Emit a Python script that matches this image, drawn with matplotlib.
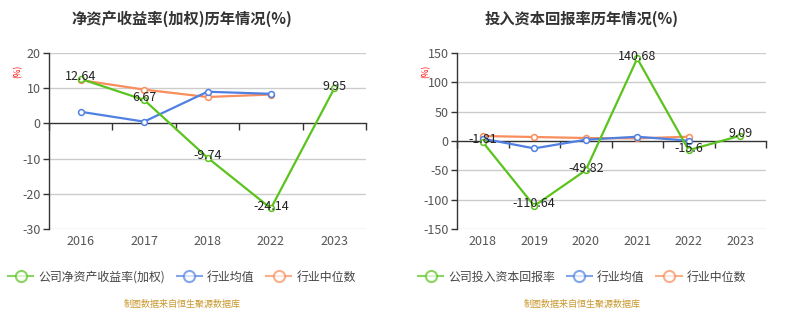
import matplotlib.pyplot as plt
from matplotlib.lines import Line2D

plt.rcParams['font.family'] = ['Noto Sans CJK SC', 'DejaVu Sans']
plt.rcParams['axes.unicode_minus'] = False

# ===== data =====
roe_years = ['2016', '2017', '2018', '2022', '2023']
roe_company = [12.64, 6.67, -9.74, -24.14, 9.95]
roe_mean = [3.3, 0.5, 9.0, 8.4]
roe_median = [12.3, 9.6, 7.5, 8.2]

roic_years = ['2018', '2019', '2020', '2021', '2022', '2023']
roic_company = [-1.81, -110.64, -49.82, 140.68, -15.6, 9.09]
roic_mean = [4.0, -12.6, 2.2, 7.3, 0.5]
roic_median = [8.5, 6.8, 5.1, 4.5, 7.3]

GREEN = '#5BC31E'
BLUE = '#4F80E2'
ORANGE = '#F98D5C'
GRID = '#CCCCCC'
TXT = '#333333'

fig = plt.figure(figsize=(7.96, 3.33), dpi=100)


def draw_panel(rect, title, title_x, years, comp, mean, median, ylim, step):
    ax = fig.add_axes(rect)
    n = len(years)
    xs = list(range(n))
    ax.set_xlim(-0.5, n - 0.5)
    ax.set_ylim(*ylim)
    ticks = list(range(ylim[0], ylim[1] + 1, step))
    ax.set_yticks(ticks)
    ax.set_yticklabels([str(t) for t in ticks], fontsize=9, color='#555555')
    ax.tick_params(axis='y', length=4, width=1, color=TXT, pad=2)
    for t in ticks:
        if t != 0:
            ax.axhline(t, color=GRID, lw=1, zorder=0)
    for s in ['top', 'right', 'bottom']:
        ax.spines[s].set_visible(False)
    ax.spines['left'].set_color(TXT)
    ax.spines['left'].set_linewidth(1)

    ax.set_xticks(xs)
    ax.set_xticklabels(years, fontsize=9, color='#555555')
    ax.tick_params(axis='x', length=0, pad=4)

    # zero axis line with ticks at category boundaries
    loc = (0 - ylim[0]) / (ylim[1] - ylim[0])
    sec = ax.secondary_xaxis(loc)
    sec.spines['top'].set_color(TXT)
    sec.spines['top'].set_linewidth(1)
    sec.set_xticks([i - 0.5 for i in range(n + 1)])
    sec.set_xticklabels([])
    sec.tick_params(direction='in', length=5, width=1, color=TXT)

    mk = dict(marker='o', markersize=4.2, markerfacecolor='white', markeredgewidth=1.1)
    ax.plot(xs[:len(median)], median, color=ORANGE, lw=1.6, zorder=3,
            markeredgecolor=ORANGE, **mk)
    ax.plot(xs[:len(mean)], mean, color=BLUE, lw=1.6, zorder=3,
            markeredgecolor=BLUE, **mk)
    ax.plot(xs, comp, color=GREEN, lw=1.6, zorder=4, markeredgecolor=GREEN, **mk)
    off = (ylim[1] - ylim[0]) * 0.012
    for x, v in zip(xs, comp):
        ax.text(x, v + off, f'{v:g}', ha='center', va='center', fontsize=9,
                color='#222222', zorder=5)

    fig.text(title_x, 1 - 19 / 333, title, ha='center', va='center', fontsize=11,
             fontweight='bold', color=TXT)
    fig.text(rect[0] - 31.5 / 796, rect[1] + rect[3] - 18 / 333, '(%)', rotation=90,
             ha='center', va='center', fontsize=6, color='red')

    handles = [
        Line2D([], [], color=c, lw=1.5, alpha=0.7, marker='o', markersize=8,
               markerfacecolor='white', markeredgecolor=c, markeredgewidth=1.5)
        for c in (GREEN, BLUE, ORANGE)
    ]
    return ax, handles


ax1, h1 = draw_panel([49 / 796, 1 - 229 / 333, 317 / 796, 176 / 333],
                     '净资产收益率(加权)历年情况(%)', 182 / 796, roe_years, roe_company,
                     roe_mean, roe_median, (-30, 20), 10)
ax2, h2 = draw_panel([457 / 796, 1 - 229 / 333, 309 / 796, 176 / 333],
                     '投入资本回报率历年情况(%)', 582 / 796, roic_years, roic_company,
                     roic_mean, roic_median, (-150, 150), 50)

leg_kw = dict(loc='center left', ncol=3, frameon=False, fontsize=8.6,
              handlelength=2.1, handletextpad=0.42, columnspacing=1.0,
              borderaxespad=0, borderpad=0, labelcolor='#444444')
fig.legend(h1, ['公司净资产收益率(加权)', '行业均值', '行业中位数'],
           bbox_to_anchor=(8 / 796, 1 - 277 / 333), **leg_kw)
fig.legend(h2, ['公司投入资本回报率', '行业均值', '行业中位数'],
           bbox_to_anchor=(418 / 796, 1 - 277 / 333), **leg_kw)

for cx in (182 / 796, 582 / 796):
    fig.text(cx, 1 - 304 / 333, '制图数据来自恒生聚源数据库', ha='center', va='center',
             fontsize=6.5, color='#C8962A')

fig.savefig('out.png', dpi=100)
